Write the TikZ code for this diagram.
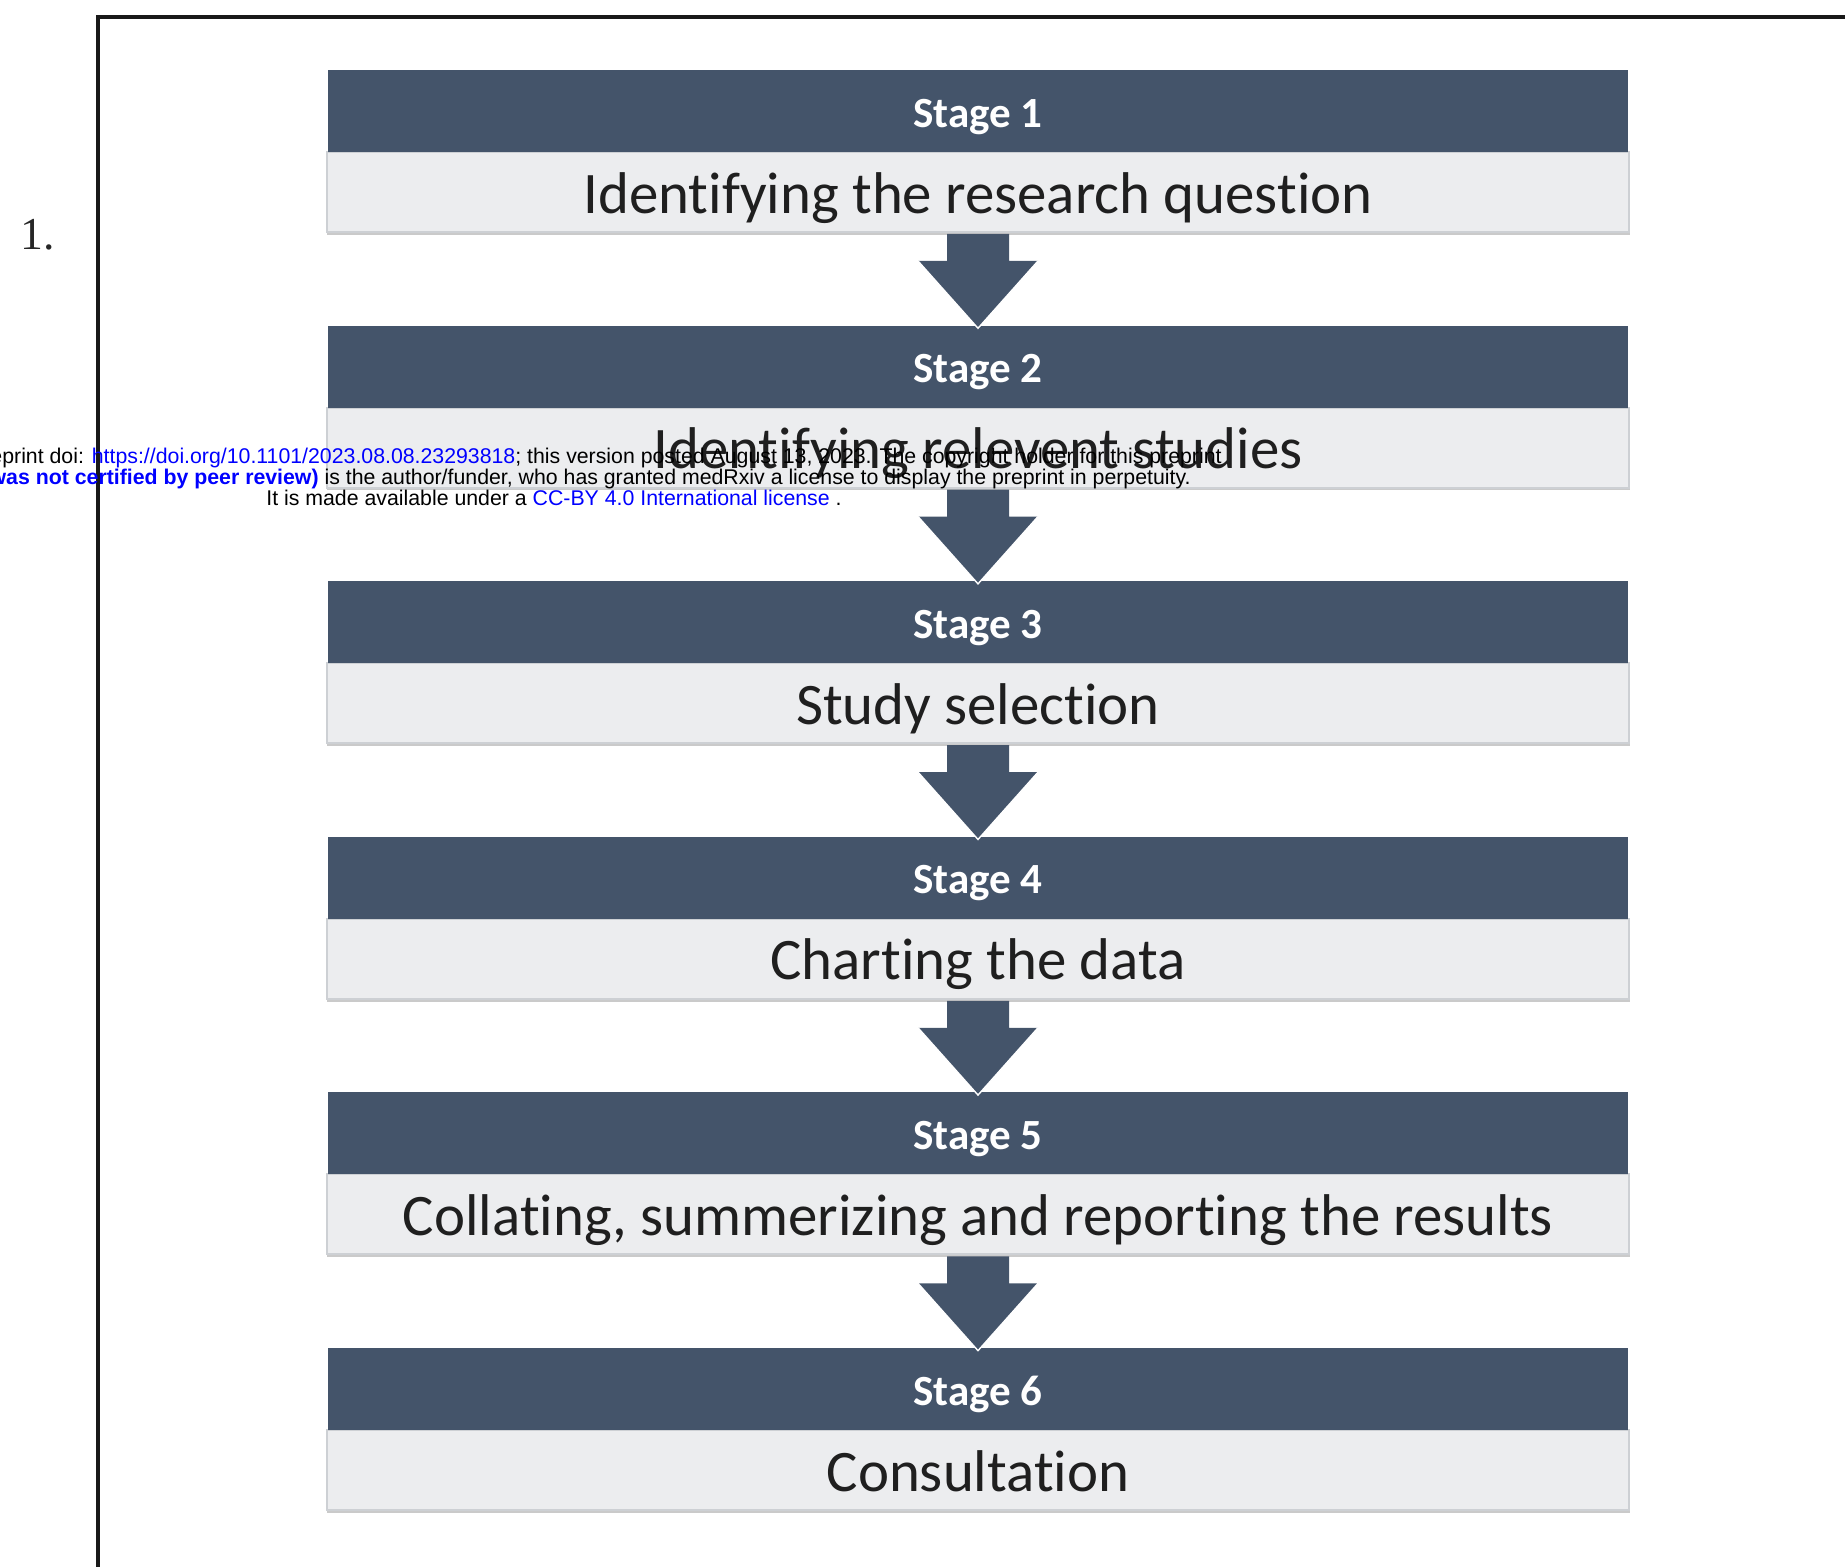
\documentclass[tikz,border=0pt]{standalone}
\usepackage{fontspec}
\setmainfont{Carlito}[Ligatures=NoCommon]
\newfontfamily\arialf{Liberation Sans}
\newfontfamily\timesf{Liberation Serif}
\usetikzlibrary{calc,shadows}
\definecolor{hdr}{HTML}{44546A}
\definecolor{lite}{HTML}{ECEDEF}
\definecolor{liteborder}{HTML}{CDD0D4}
\definecolor{linkblue}{HTML}{0000FF}
\begin{document}
\begin{tikzpicture}[x=0.02cm,y=-0.02cm,
  hdrbox/.style={fill=hdr, minimum width=26cm, minimum height=1.64cm, inner sep=0pt,
    text height=0.64cm, text depth=0pt,
    text=white, font=\bfseries\fontsize{24.5}{29}\selectfont},
  bodybox/.style={fill=lite, draw=liteborder, line width=1.1pt, minimum width=26.06cm,
    minimum height=1.6cm, inner sep=0pt, text=black!88,
    text height=0.84cm, text depth=0pt,
    font=\fontsize{33.5}{40}\selectfont,
    drop shadow={shadow xshift=0.4pt, shadow yshift=-1.6pt, opacity=0.35, fill=black!60}},
  wm/.style={font=\arialf\fontsize{12.12}{14}\selectfont, inner sep=0pt, text=black}]
\useasboundingbox (0,0) rectangle (1845,1566);

% frame
\draw[line width=2.2pt, black!90] (98,1580) -- (98,17) -- (1860,17);
\node[font=\timesf\fontsize{26}{31}\selectfont, anchor=base west, inner sep=0pt, text=black!85] (num) at (20,249) {1.};

% light body boxes
\node[bodybox] (b1) at (978,192) {Identifying the research question};
\node[bodybox] (b2) at (978,447.6) {Identifying relevent studies};
\node[bodybox] (b3) at (978,703.2) {Study selection};
\node[bodybox] (b4) at (978,958.8) {Charting the data};
\node[bodybox] (b5) at (978,1214.4) {Collating, summerizing and reporting the results};
\node[bodybox] (b6) at (978,1470) {Consultation};

% dark header boxes
\node[hdrbox] (s1) at (978,111) {Stage 1};
\node[hdrbox] (s2) at (978,366.6) {Stage 2};
\node[hdrbox] (s3) at (978,622.2) {Stage 3};
\node[hdrbox] (s4) at (978,877.8) {Stage 4};
\node[hdrbox] (s5) at (978,1133.4) {Stage 5};
\node[hdrbox] (s6) at (978,1389) {Stage 6};

% block arrows
\foreach \k in {1,...,5}{
  \pgfmathtruncatemacro{\nx}{\k+1}
  \fill[hdr] ($(b\k.south)+(-31,1)$) -- ++(0,27) -- ++(-29,0) coordinate (hl)
     -- ($(s\nx.north)+(0,3)$) coordinate (tp)
     -- ($(b\k.south)+(60,28)$) coordinate (hr) -- ++(-29,0) -- ++(0,-27) -- cycle;
  \draw[white, line width=0.8pt] (hl) -- (tp) -- (hr);
}

% watermark overlay
\node[wm, anchor=base east] (wm1) at (1222,463) {eprint doi: \textcolor{linkblue}{https://doi.org/10.1101/2023.08.08.23293818}; this version posted August 13, 2023. The copyright holder for this preprint};
\node[wm, anchor=base east] (wm2) at (1191,484) {\textcolor{linkblue}{\bfseries was not certified by peer review)} is the author/funder, who has granted medRxiv a license to display the preprint in perpetuity.};
\node[wm, anchor=base west] (wm3) at (266,505) {It is made available under a \textcolor{linkblue}{CC-BY 4.0 International license} .};
\end{tikzpicture}
\end{document}
